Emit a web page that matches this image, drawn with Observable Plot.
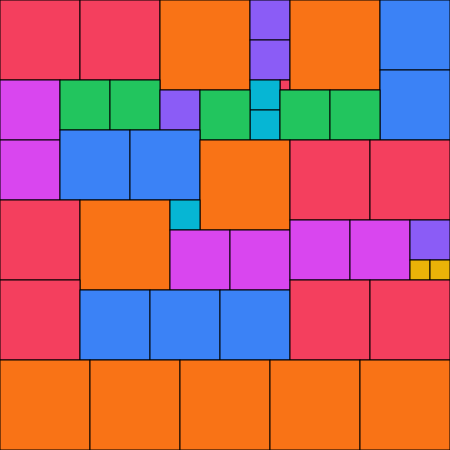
<!DOCTYPE html>
<html>
<head>
<meta charset="utf-8">
<script src="https://cdn.jsdelivr.net/npm/d3@7"></script>
<script src="https://cdn.jsdelivr.net/npm/@observablehq/plot@0.6"></script>
<style>
  html, body { margin: 0; padding: 0; background: #fff; }
</style>
</head>
<body>
<div id="chart"></div>
<script>
// Square packing: left, top and side length of each square (in chart units)
const lefts = [0,80,160,250,250,280,250,250,290,380,380, 0,60,110,160,200,280,330, 0,60,130,200,290,370, 0,80,170,170,230,290,350,410,410,430, 0,80,150,220,290,370, 0,90,180,270,360];
const tops  = [0,0,0,0,40,80,80,110,0,0,70, 80,80,80,90,90,90,90, 140,130,130,140,140,140, 200,200,200,230,230,220,220,220,260,260, 280,290,290,290,280,280, 360,360,360,360,360];
const sides = [80,80,90,40,40,10,30,30,90,70,70, 60,50,50,40,50,50,50, 60,70,70,90,80,80, 80,90,30,60,60,60,60,40,20,20, 80,70,70,70,80,80, 90,90,90,90,90];

const sizeDomain = [10, 20, 30, 40, 50, 60, 70, 80, 90];
const sizeColors = ["#f43f5e", "#eab308", "#06b6d4", "#8b5cf6", "#22c55e", "#d946ef", "#3b82f6", "#f43f5e", "#f97316"];

const squares = lefts.map((x, i) => ({x, y: tops[i], s: sides[i]}));

const chart = Plot.plot({
  width: 450,
  height: 450,
  margin: 0,
  x: {domain: [0, 450], axis: null},
  y: {domain: [0, 450], axis: null, reverse: true},
  color: {type: "ordinal", domain: sizeDomain, range: sizeColors},
  marks: [
    Plot.rect(squares, {
      x1: "x",
      x2: d => d.x + d.s,
      y1: "y",
      y2: d => d.y + d.s,
      fill: "s",
      stroke: "black",
      strokeWidth: 1
    })
  ]
});
document.getElementById("chart").appendChild(chart);
</script>
</body>
</html>
